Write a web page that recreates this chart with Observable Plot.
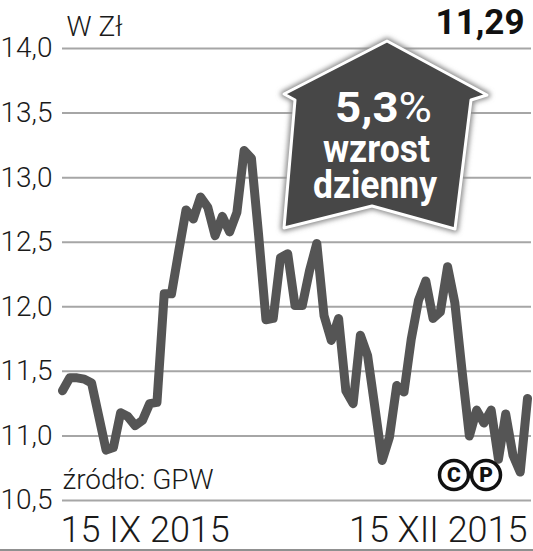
<!DOCTYPE html>
<html>
<head>
<meta charset="utf-8">
<script src="https://cdn.jsdelivr.net/npm/d3@7"></script>
<script src="https://cdn.jsdelivr.net/npm/@observablehq/plot@0.6"></script>
<style>
  html, body { margin: 0; padding: 0; background: #fff; }
  #chart { width: 533px; height: 551px; position: relative; }
</style>
</head>
<body>
<div id="chart"></div>
<script>
// Daily closing prices, 15 IX 2015 – 15 XII 2015 (zł)
const prices = [
  11.35, 11.45, 11.45, 11.44, 11.41, 11.15, 10.89, 10.91, 11.18, 11.15,
  11.08, 11.12, 11.25, 11.26, 12.10, 12.10, 12.43, 12.75, 12.68, 12.85,
  12.77, 12.55, 12.70, 12.58, 12.73, 13.21, 13.15, 12.55, 11.90, 11.91,
  12.38, 12.41, 12.01, 12.01, 12.28, 12.49, 11.93, 11.74, 11.91, 11.35,
  11.25, 11.78, 11.62, 11.22, 10.81, 10.99, 11.39, 11.34, 11.75, 12.05,
  12.20, 11.91, 11.96, 12.31, 12.03, 11.50, 11.00, 11.20, 11.10, 11.20,
  10.82, 11.17, 10.85, 10.72, 11.29
];
const yTicks = [10.5, 11.0, 11.5, 12.0, 12.5, 13.0, 13.5, 14.0];
const xLabels = ["15 IX 2015", "15 XII 2015"];
const unitLabel = ["W Zł"];
const lastValueLabel = ["11,29"];
const sourceLabel = ["źródło: GPW"];
const badgeLines = ["5,3", "%", "wzrost", "dzienny"];

const lastIdx = prices.length - 1;
const fmt = d => d.toFixed(1).replace(".", ",");
const FONT = "Roboto, 'Liberation Sans', sans-serif";

const chart = Plot.plot({
  width: 533,
  height: 551,
  marginLeft: 62,
  marginRight: 2,
  marginTop: 48,
  marginBottom: 51,
  x: { domain: [0, lastIdx + 0.55], axis: null },
  y: { domain: [10.5, 14.0], axis: null },
  style: { fontFamily: FONT, background: "#fff", overflow: "visible" },
  marks: [
    Plot.ruleY(yTicks, { stroke: "#a6a6a6", strokeWidth: 2 }),
    Plot.text(yTicks, {
      y: d => d, text: fmt, frameAnchor: "left", dx: -62,
      textAnchor: "start", fontSize: 28, fontWeight: 300, fill: "#1a1a1a"
    }),
    Plot.line(prices, {
      x: (d, i) => i, y: d => d, stroke: "#555555", strokeWidth: 9,
      strokeLinejoin: "round", strokeLinecap: "round"
    }),
    Plot.text([xLabels[0]], {
      x: () => 0, y: () => 10.5, dx: -2, dy: 41, lineAnchor: "bottom",
      textAnchor: "start", fontSize: 36, fontWeight: 300, fill: "#1a1a1a"
    }),
    Plot.text([xLabels[1]], {
      x: () => lastIdx, y: () => 10.5, dx: 0, dy: 41, lineAnchor: "bottom",
      textAnchor: "end", fontSize: 36, fontWeight: 300, fill: "#1a1a1a"
    }),
    Plot.text(sourceLabel, {
      x: () => 0, y: () => 10.5, dx: 0, dy: -12, lineAnchor: "bottom",
      textAnchor: "start", fontSize: 28, fontWeight: 300, fill: "#1a1a1a"
    }),
    Plot.text(unitLabel, {
      frameAnchor: "top-left", dx: 4, dy: -13, lineAnchor: "bottom",
      textAnchor: "start", fontSize: 28, fontWeight: 300, fill: "#1a1a1a"
    }),
    Plot.text(lastValueLabel, {
      frameAnchor: "top-right", dx: -7, dy: -15, lineAnchor: "bottom",
      textAnchor: "end", fontSize: 35, fontWeight: 700, fill: "#111"
    })
  ]
});

document.getElementById("chart").appendChild(chart);

// Decorations: badge arrow, copyright marks, bottom rule
const svg = d3.select(chart);
const defs = svg.append("defs");
const f = defs.append("filter").attr("id", "glow").attr("x", "-20%").attr("y", "-20%").attr("width", "140%").attr("height", "140%");
f.append("feGaussianBlur").attr("stdDeviation", 2.5);

const arrowPts = [[387,41],[487,95],[471,100],[455,229],[372,206],[284,228],[295,100],[284,94]];
const ptsStr = arrowPts.map(p => p.join(",")).join(" ");
const g = svg.append("g").attr("text-anchor", "start");
g.append("polygon").attr("points", ptsStr).attr("fill", "none")
  .attr("stroke", "#8a8a8a").attr("stroke-width", 7).attr("stroke-linejoin", "round")
  .attr("filter", "url(#glow)");
g.append("polygon").attr("points", ptsStr).attr("fill", "#474747")
  .attr("stroke", "#fff").attr("stroke-width", 3).attr("stroke-linejoin", "round");

const t1 = g.append("text").attr("x", 335).attr("y", 122).attr("text-anchor", "start")
  .attr("font-family", FONT).attr("font-size", 42).attr("font-weight", 700)
  .attr("fill", "#fff").attr("textLength", 97).attr("lengthAdjust", "spacingAndGlyphs");
t1.append("tspan").text(badgeLines[0]);
t1.append("tspan").attr("font-weight", 400).text(badgeLines[1]);
g.append("text").attr("x", 323).attr("y", 162).attr("text-anchor", "start")
  .attr("font-family", FONT).attr("font-size", 38).attr("font-weight", 700)
  .attr("fill", "#fff").attr("textLength", 107).attr("lengthAdjust", "spacingAndGlyphs")
  .text(badgeLines[2]);
g.append("text").attr("x", 313).attr("y", 198).attr("text-anchor", "start")
  .attr("font-family", FONT).attr("font-size", 38).attr("font-weight", 700)
  .attr("fill", "#fff").attr("textLength", 124).attr("lengthAdjust", "spacingAndGlyphs")
  .text(badgeLines[3]);

// © ℗ marks
const marks = [["C", 454], ["P", 486]];
marks.forEach(([ch, cx]) => {
  svg.append("circle").attr("cx", cx).attr("cy", 475).attr("r", 14.5)
    .attr("fill", "#fff").attr("stroke", "#111").attr("stroke-width", 3.5);
  svg.append("text").attr("x", cx).attr("y", 482).attr("text-anchor", "middle")
    .attr("font-family", FONT).attr("font-size", 21).attr("font-weight", 900)
    .attr("fill", "#111").text(ch);
});

svg.append("line").attr("x1", 0).attr("x2", 533).attr("y1", 550).attr("y2", 550)
  .attr("stroke", "#222").attr("stroke-width", 1.2);
</script>
</body>
</html>
